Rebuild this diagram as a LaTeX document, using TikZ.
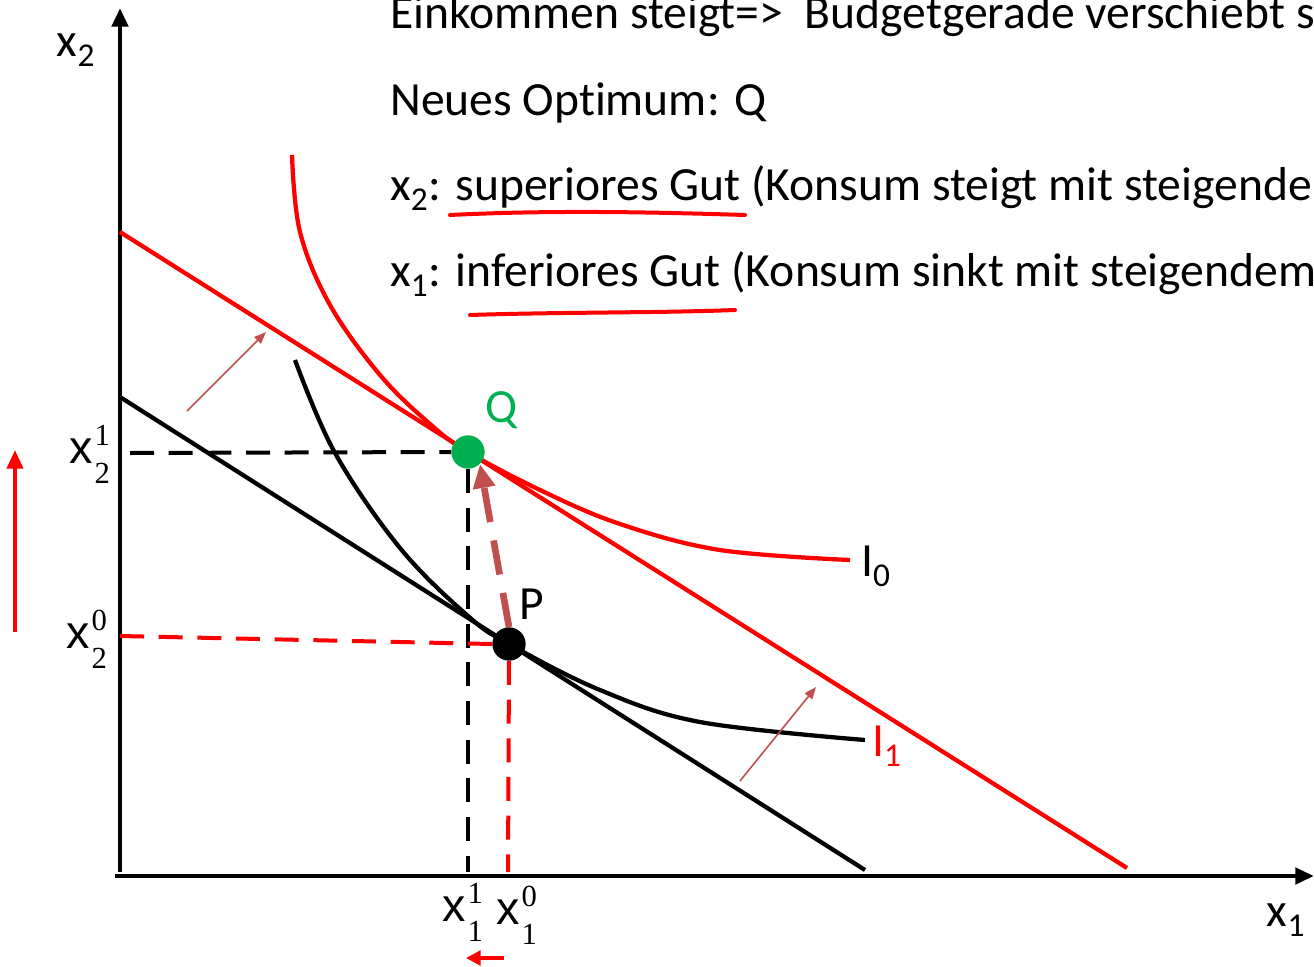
\documentclass[tikz,border=0pt]{standalone}
\usepackage{fontspec}
\setmainfont{Carlito}[Ligatures=NoCommon]
\newfontfamily\arialf{Liberation Sans}
\newfontfamily\timesf{Liberation Serif}
\usetikzlibrary{arrows.meta}
\definecolor{myred}{RGB}{255,0,0}
\definecolor{brick}{RGB}{192,80,77}
\definecolor{qgreen}{RGB}{0,176,80}
\newcommand{\bigtxt}{\fontsize{35.7}{42}\selectfont}
\newcommand{\xlab}[2]{{\arialf\fontsize{35}{38}\selectfont x}\kern1.5pt\rlap{\raisebox{13pt}{\timesf\fontsize{23}{23}\selectfont #1}}\raisebox{-15pt}{\timesf\fontsize{23}{23}\selectfont #2}}
\begin{document}
\begin{tikzpicture}[x=0.75pt,y=-0.75pt,
  axis/.style={line width=3.6pt,-{Triangle[length=14pt,width=12pt]}},
  bline/.style={line width=3.2pt},
  rline/.style={line width=3.2pt,myred},
  dsh/.style={line width=3pt,dash pattern=on 18pt off 11pt},
  thinarr/.style={brick,line width=1.2pt,-{Triangle[length=9pt,width=7pt]}},
  txt/.style={anchor=base west,inner sep=0pt,font=\bigtxt},
  dot/.style={circle,minimum size=25pt,inner sep=0pt},
  lab/.style={inner sep=0pt,font=\bigtxt},
  xl/.style={anchor=base west,inner sep=0pt}]
\useasboundingbox (0,0) rectangle (1314,967);

% text
\node[txt] (t1) at (390,28) {Einkommen steigt=>\ \ Budgetgerade verschiebt s};
\node[txt] (t2) at (390,115) {Neues Optimum: Q};
\node[txt] (t3) at (390,200) {x\textsubscript{2}: superiores Gut (Konsum steigt mit steigende};
\node[txt] (t4) at (390,286) {x\textsubscript{1}: inferiores Gut (Konsum sinkt mit steigendem};
\draw[myred,line width=3pt,line cap=round] (450,215) .. controls (550,210) and (650,212) .. (745,215);
\draw[myred,line width=3pt,line cap=round] (470,315) .. controls (560,312) and (660,313) .. (735,310);

% axes
\coordinate (O) at (120,876);
\coordinate (yend) at (120,8);
\coordinate (xend) at (1314,876);
\draw[axis] (120,872) -- (yend);
\draw[axis] (115,876) -- (xend);
\node[lab] (lx2) at (76,50) {x\textsubscript{2}};
\node[lab] (lx1) at (1286,920) {x\textsubscript{1}};

% budget lines
\coordinate (b0a) at (120,397);
\coordinate (b0b) at (865,870);
\coordinate (b1a) at (120,232);
\coordinate (b1b) at (1127,868);
\draw[bline] (b0a) -- (b0b);
\draw[rline] (b1a) -- (b1b);

% indifference curves
\draw[bline] plot[smooth,tension=0.6] coordinates {(295,360) (335,453) (400,548) (468,616) (509,644) (600,690) (700,722) (865,740)};
\draw[rline] plot[smooth,tension=0.6] coordinates {(292,155) (300,232) (330,305) (380,375) (430,424) (468,452) (540,490) (620,524) (720,550) (850,560)};

% points
\node[dot,fill=qgreen] (Q) at (468,452) {};
\node[dot,fill=black] (P) at (509,644) {};
\node[lab,text=qgreen] (lQ) at (502,410) {Q};
\node[lab] (lP) at (532,604) {P};

% dashed guides
\coordinate (x21) at (130,453);
\coordinate (x11) at (468,872);
\draw[dsh] (x21) -- (Q.west);
\draw[dsh] (Q.south) -- (x11);
\coordinate (x20) at (120,636);
\coordinate (x10) at (508,872);
\draw[dsh,myred] (x20) -- (P.west);
\draw[dsh,myred] (P.south) -- (x10);

% movement arrow P -> Q
\draw[brick,line width=5pt,dash pattern=on 26pt off 14pt,-{Triangle[length=18pt,width=16pt]}] (P.north) -- (Q.south east);

% shift arrows
\coordinate (s1a) at (187,411);
\coordinate (s1b) at (266,332);
\coordinate (s2a) at (740,781);
\coordinate (s2b) at (816,687);
\draw[thinarr] (s1a) -- (s1b);
\draw[thinarr] (s2a) -- (s2b);

% left red arrow
\coordinate (la) at (15,632);
\coordinate (lb) at (15,450);
\draw[myred,line width=3pt,-{Triangle[length=14pt,width=12pt]}] (la) -- (lb);
% bottom red arrow
\coordinate (ba) at (504,958);
\coordinate (bb) at (466,958);
\draw[myred,line width=3pt,-{Triangle[length=11pt,width=11pt]}] (ba) -- (bb);

% axis value labels
\node[xl] (lx21) at (69,463) {\xlab{1}{2}};
\node[xl] (lx20) at (66,648) {\xlab{0}{2}};
\node[xl] (lx11) at (442,921) {\xlab{1}{1}};
\node[xl] (lx10) at (496,924) {\xlab{0}{1}};

% curve labels
\node[lab] (I0) at (876,566) {I\textsubscript{0}};
\node[lab,text=myred] (I1) at (887,746) {I\textsubscript{1}};
\end{tikzpicture}
\end{document}
